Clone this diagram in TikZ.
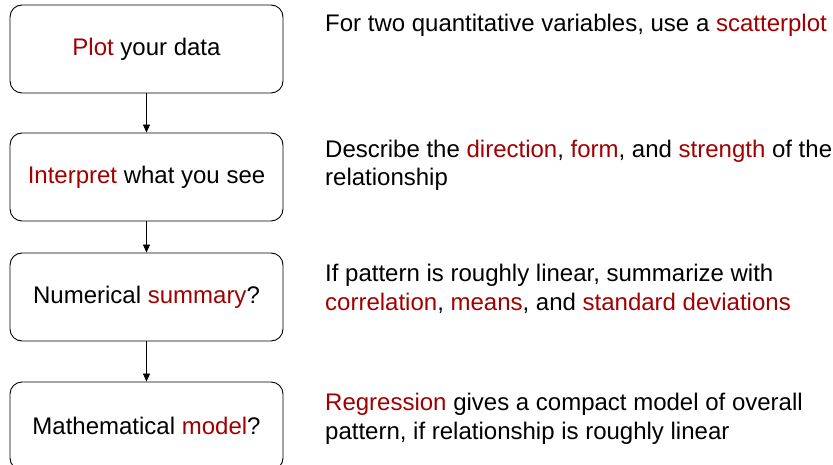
\documentclass[tikz,border=0pt]{standalone}
\usepackage{fontspec}
\setmainfont{Liberation Sans}
\usepackage{xcolor}
\usetikzlibrary{positioning,arrows.meta}
\definecolor{AccentRed}{HTML}{A00000}
\newcommand{\kw}[1]{\textcolor{AccentRed}{#1}}

\begin{document}
\begin{tikzpicture}[x=1pt,y=-1pt,
          every node/.style={font=\fontsize{24}{28.5}\selectfont},
          box/.style={draw, rounded corners=12pt, line width=0.9pt,
            minimum width=273pt, minimum height=88pt, inner sep=0pt},
          note/.style={anchor=base west, align=left, inner sep=0pt},
          ar/.style={-{Triangle[length=8pt,width=7pt]},line width=0.8pt}]
        \clip (0,0) rectangle (833,465);
        % left column
        \node[box] (plot) at (146.5,49) {\kw{Plot} your data};
        \node[box] (interp) at (146.5,177) {\kw{Interpret} what you see};
        \node[box] (summ) at (146.5,297) {Numerical \kw{summary}?};
        \node[box] (model) at (146.5,426) {Mathematical \kw{model}?};
        % right column (base = last line)
        \node[note] (plotnote) at (325,32)
        {For two quantitative variables, use a \kw{scatterplot}};
        \node[note] (interpnote) at (325,186)
        {Describe the \kw{direction}, \kw{form}, and \kw{strength} of the\\
          relationship};
        \node[note] (summnote) at (325,310)
        {If pattern is roughly linear, summarize with\\
          \kw{correlation}, \kw{means}, and \kw{standard deviations}};
        \node[note] (modelnote) at (325,439)
        {\kw{Regression} gives a compact model of overall\\
          pattern, if relationship is roughly linear};
        \draw[ar](plot)--(interp); \draw[ar](interp)--(summ); \draw[ar](summ)--(model);
      \end{tikzpicture}
\end{document}
